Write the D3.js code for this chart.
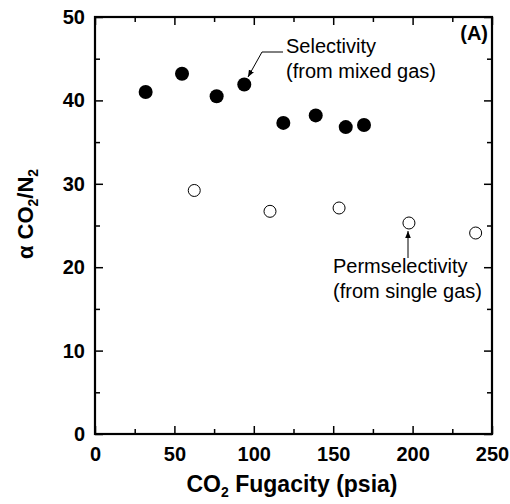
<!DOCTYPE html>
<html><head><meta charset="utf-8">
<script src="https://cdn.jsdelivr.net/npm/d3@7"></script>
<style>body{margin:0;background:#fff}svg{display:block}text{font-family:"Liberation Sans",Arial,sans-serif}</style>
</head><body><svg id="c" width="510" height="504"></svg>
<script>
const mixedX = [31.9, 54.8, 76.6, 94.0, 118.6, 139.0, 157.9, 169.4];
const mixedY = [41.0, 43.2, 40.5, 41.9, 37.3, 38.2, 36.8, 37.05];
const singleX = [62.5, 110.2, 153.7, 197.7, 239.7];
const singleY = [29.2, 26.7, 27.1, 25.3, 24.1];
const xTicks = [0, 50, 100, 150, 200, 250];
const yTicks = [0, 10, 20, 30, 40, 50];

const svg = d3.select("#c");
const m = {l:95, r:18, t:17, b:70};
const W = 510 - m.l - m.r, H = 504 - m.t - m.b;
const g = svg.append("g").attr("transform", `translate(${m.l},${m.t})`);
const x = d3.scaleLinear().domain([0,250]).range([0,W]);
const y = d3.scaleLinear().domain([0,50]).range([H,0]);

svg.append("defs").append("marker").attr("id","ah").attr("viewBox","0 0 10 10")
  .attr("refX",10).attr("refY",5).attr("markerWidth",7).attr("markerHeight",8)
  .attr("markerUnits","userSpaceOnUse").attr("orient","auto")
  .append("path").attr("d","M0,1L10,5L0,9Z").attr("fill","#000");

function styleAxis(sel){
  sel.selectAll(".domain").remove();
  sel.selectAll("line").attr("stroke","#000").attr("stroke-width",1.5);
}
const minorX = d3.range(25,250,50), minorY = d3.range(5,50,10);
// bottom
g.append("g").attr("transform",`translate(0,${H})`)
  .call(d3.axisBottom(x).tickValues(xTicks).tickSize(-8).tickPadding(13).tickFormat(d3.format("d")))
  .call(styleAxis).selectAll("text").attr("font-size",20).attr("font-weight","bold").attr("fill","#000");
g.append("g").attr("transform",`translate(0,${H})`)
  .call(d3.axisBottom(x).tickValues(minorX).tickSize(-5).tickFormat("")).call(styleAxis);
// top
g.append("g").call(d3.axisTop(x).tickValues(xTicks).tickSize(-8).tickFormat("")).call(styleAxis);
g.append("g").call(d3.axisTop(x).tickValues(minorX).tickSize(-5).tickFormat("")).call(styleAxis);
// left
g.append("g").call(d3.axisLeft(y).tickValues(yTicks).tickSize(-8).tickPadding(10).tickFormat(d3.format("d")))
  .call(styleAxis).selectAll("text").attr("font-size",20).attr("font-weight","bold").attr("fill","#000");
g.append("g").call(d3.axisLeft(y).tickValues(minorY).tickSize(-5).tickFormat("")).call(styleAxis);
// right
g.append("g").attr("transform",`translate(${W},0)`)
  .call(d3.axisRight(y).tickValues(yTicks).tickSize(-8).tickFormat("")).call(styleAxis);
g.append("g").attr("transform",`translate(${W},0)`)
  .call(d3.axisRight(y).tickValues(minorY).tickSize(-5).tickFormat("")).call(styleAxis);

g.append("rect").attr("width",W).attr("height",H).attr("fill","none").attr("stroke","#000").attr("stroke-width",2.2);

// data
g.selectAll("circle.m").data(mixedX).enter().append("circle")
  .attr("cx",(d)=>x(d)).attr("cy",(d,i)=>y(mixedY[i])).attr("r",7).attr("fill","#000");
g.selectAll("circle.s").data(singleX).enter().append("circle")
  .attr("cx",(d)=>x(d)).attr("cy",(d,i)=>y(singleY[i])).attr("r",6).attr("fill","#fff")
  .attr("stroke","#000").attr("stroke-width",1);

// annotations (absolute coords)
svg.append("text").attr("x",488).attr("y",40).attr("text-anchor","end").attr("font-size",20)
  .attr("font-weight","bold").text("(A)");
svg.append("text").attr("x",286).attr("y",53).attr("font-size",20).text("Selectivity");
svg.append("text").attr("x",286).attr("y",78).attr("font-size",20).text("(from mixed gas)");
svg.append("path").attr("d","M283,52L262,52L248,77").attr("fill","none").attr("stroke","#000")
  .attr("stroke-width",1).attr("marker-end","url(#ah)");
svg.append("text").attr("x",333).attr("y",273).attr("font-size",20).text("Permselectivity");
svg.append("text").attr("x",333).attr("y",298).attr("font-size",20).text("(from single gas)");
svg.append("path").attr("d","M408,258L408,231").attr("fill","none").attr("stroke","#000")
  .attr("stroke-width",1).attr("marker-end","url(#ah)");

// axis titles
const xt = svg.append("text").attr("x",292).attr("y",492).attr("text-anchor","middle")
  .attr("font-size",23).attr("font-weight","bold");
xt.append("tspan").text("CO");
xt.append("tspan").attr("font-size",14).attr("dy",5).text("2");
xt.append("tspan").attr("dy",-5).text(" Fugacity (psia)");

const yt = svg.append("text").attr("transform","translate(33,214) rotate(-90)").attr("text-anchor","middle")
  .attr("font-size",22).attr("font-weight","bold");
yt.append("tspan").text("α CO");
yt.append("tspan").attr("font-size",14).attr("dy",5).text("2");
yt.append("tspan").attr("dy",-5).text("/N");
yt.append("tspan").attr("font-size",14).attr("dy",5).text("2");
</script></body></html>
